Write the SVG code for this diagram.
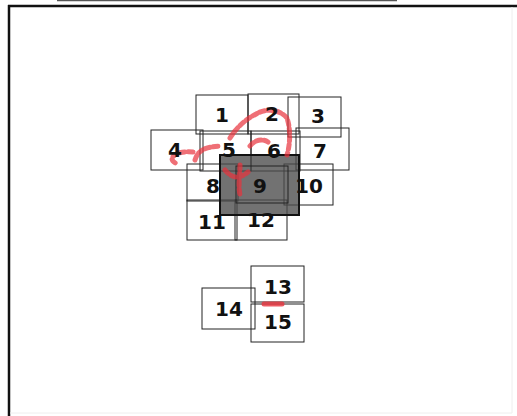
<svg xmlns="http://www.w3.org/2000/svg" width="517" height="416" viewBox="0 0 517 416">
<style>
.b{fill:#fff;fill-opacity:0;stroke:#222;stroke-width:1}
.t{font-family:"DejaVu Sans",Verdana,sans-serif;font-weight:bold;font-size:20px;fill:#111;text-anchor:middle;dominant-baseline:central}
.r{fill:none;stroke:#e8323c;stroke-opacity:0.7;stroke-width:5;stroke-linecap:round;stroke-linejoin:round;stroke-dasharray:5 3}
</style>
<rect width="517" height="416" fill="#fff"/>
<g id="frame">
<line x1="57" y1="0.5" x2="397" y2="0.5" stroke="#555" stroke-width="1.5"/>
<line x1="8" y1="6" x2="517" y2="6" stroke="#111" stroke-width="2.5"/>
<line x1="9" y1="5" x2="9" y2="416" stroke="#111" stroke-width="2.5"/>
<line x1="512" y1="7" x2="512" y2="413" stroke="#eee" stroke-width="1"/>
<line x1="10" y1="413" x2="512" y2="413" stroke="#eee" stroke-width="1"/>
</g>
<g id="connectors"></g>
<g id="n1"><rect class="b" x="196" y="95" width="52" height="39"/></g>
<g id="n2"><rect class="b" x="248" y="94" width="51" height="40"/></g>
<g id="n3"><rect class="b" x="288" y="97" width="53" height="40"/></g>
<g id="n4"><rect class="b" x="151" y="130" width="52" height="40"/></g>
<g id="n5"><rect class="b" x="200" y="131" width="51" height="40"/></g>
<g id="n6"><rect class="b" x="251" y="131" width="49" height="40"/></g>
<g id="n7"><rect class="b" x="296" y="128" width="53" height="42"/></g>
<g id="n8"><rect class="b" x="187" y="164" width="51" height="37"/></g>
<g id="n10"><rect class="b" x="284" y="164" width="49" height="41"/></g>
<g id="n11"><rect class="b" x="187" y="200" width="50" height="40"/></g>
<g id="n12"><rect class="b" x="235" y="200" width="52" height="40"/></g>
<g id="n9">
<rect x="220" y="155" width="79" height="60" fill="#4a4a4a" fill-opacity="0.78" stroke="#111" stroke-width="2"/>
<rect x="236" y="166" width="52" height="37" fill="none" stroke="#222" stroke-width="1"/>
</g>
<g id="n13"><rect class="b" x="251" y="266" width="53" height="36"/></g>
<g id="n15"><rect class="b" x="251" y="304" width="53" height="38"/></g>
<g id="n14"><rect class="b" x="202" y="288" width="53" height="41"/></g>
<g id="marks">
<path class="r" d="M193,152 C175,150 165,160 178,164 M195,160 C198,150 205,147 220,146 M230,138 C238,125 248,118 258,113 C268,108 280,110 287,118 C291,130 290,145 287,155"/>
<path class="r" d="M250,146 C255,140 262,138 268,142 M240,165 C240,175 238,185 240,195 M225,170 C232,178 238,180 248,172"/>
<path d="M264,304 h18" stroke="#e8323c" stroke-opacity="0.8" stroke-width="5" stroke-linecap="round"/>
</g>
<g id="labels">
<text class="t" x="222" y="115">1</text>
<text class="t" x="272" y="114">2</text>
<text class="t" x="318" y="116">3</text>
<text class="t" x="175" y="150">4</text>
<text class="t" x="229" y="150">5</text>
<text class="t" x="274" y="151">6</text>
<text class="t" x="320" y="151">7</text>
<text class="t" x="213" y="186">8</text>
<text class="t" x="260" y="186">9</text>
<text class="t" x="309" y="186">10</text>
<text class="t" x="212" y="222">11</text>
<text class="t" x="261" y="220">12</text>
<text class="t" x="278" y="287">13</text>
<text class="t" x="229" y="309">14</text>
<text class="t" x="278" y="322">15</text>
</g>
</svg>
